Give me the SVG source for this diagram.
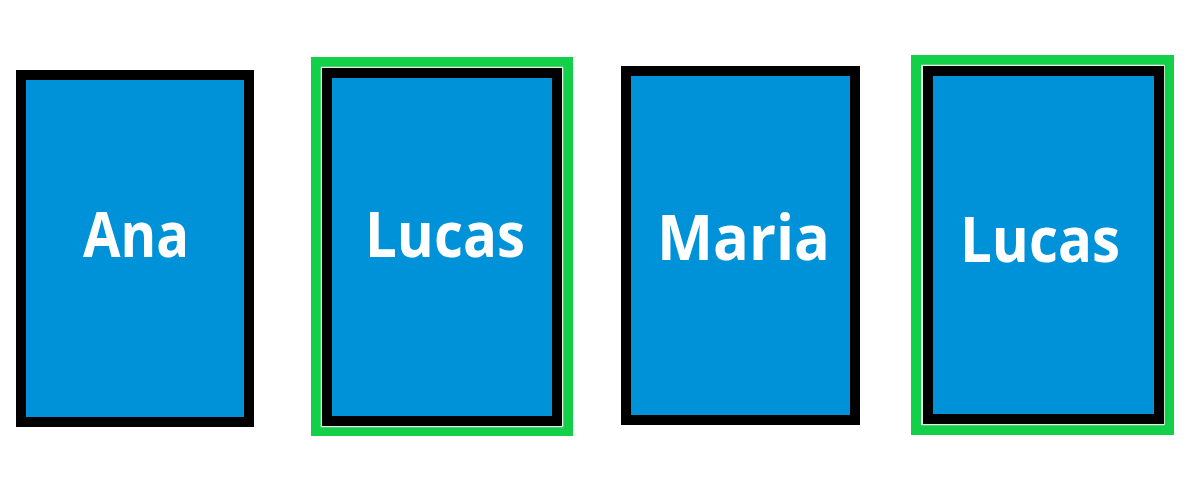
<svg xmlns="http://www.w3.org/2000/svg" width="1192" height="499" viewBox="0 0 1192 499">
  <style>
    .card { fill: #0092D8; stroke: #000000; stroke-width: 10; }
    .hl { fill: none; stroke: #12D148; stroke-width: 10; }
    .gap { fill: none; stroke: #E8F0E8; stroke-width: 1.5; }
    .label { font-family: "Open Sans", "Liberation Sans", sans-serif; font-weight: 700; font-size: 62px; fill: #FFFFFF; text-anchor: middle; }
  </style>
  <rect width="1192" height="499" fill="#FFFFFF"/>
  <g id="card-ana">
    <rect class="card" x="21" y="75" width="228" height="347"/>
    <text class="label" x="136" y="257" textLength="106" lengthAdjust="spacingAndGlyphs">Ana</text>
  </g>
  <g id="card-lucas-1">
    <rect class="hl" x="316" y="62" width="252" height="369"/>
    <rect class="gap" x="321.5" y="67.5" width="241" height="359"/>
    <rect class="card" x="327" y="73" width="230" height="348"/>
    <text class="label" x="445" y="257" textLength="160" lengthAdjust="spacingAndGlyphs">Lucas</text>
  </g>
  <g id="card-maria">
    <rect class="card" x="626" y="71" width="229" height="349"/>
    <text class="label" x="743.5" y="260" textLength="173" lengthAdjust="spacingAndGlyphs">Maria</text>
  </g>
  <g id="card-lucas-2">
    <rect class="hl" x="916" y="60" width="253" height="370"/>
    <rect class="gap" x="922" y="65.5" width="242" height="359"/>
    <rect class="card" x="928" y="71" width="231" height="348"/>
    <text class="label" x="1040" y="262" textLength="160" lengthAdjust="spacingAndGlyphs">Lucas</text>
  </g>
  <g id="connectors"></g>
</svg>
